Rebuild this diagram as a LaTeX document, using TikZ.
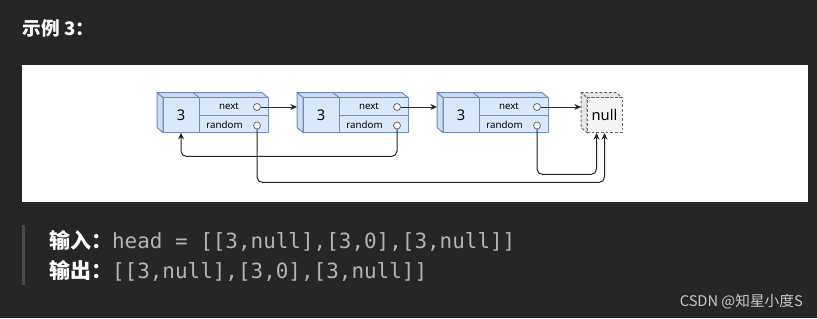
\documentclass[tikz,border=0pt]{standalone}
\usepackage{fontspec}
\setmainfont{Noto Sans}
\newfontfamily\cjk{Noto Sans CJK SC}
\newfontfamily\codefont{DejaVu Sans Mono}
\usetikzlibrary{calc,arrows.meta}
\usepackage{xcolor}
\definecolor{pagedark}{HTML}{262626}
\definecolor{cellblue}{HTML}{DAE8FC}
\definecolor{cellside}{HTML}{CCDCF3}
\definecolor{cellline}{HTML}{6C8EBF}
\definecolor{nullfill}{HTML}{F5F5F5}
\definecolor{nullshade}{HTML}{E6E6E6}
\definecolor{nullline}{HTML}{666666}
\definecolor{codegray}{HTML}{B4B4B4}
\definecolor{quotebar}{HTML}{4A4A4A}
\definecolor{marktext}{HTML}{C8C8C8}

\begin{document}
\begin{tikzpicture}[x=0.75pt, y=-0.75pt,
  cubeface/.style={fill=cellblue, draw=cellline, line width=0.75pt, line join=round},
  cubeside/.style={fill=cellside, draw=cellline, line width=0.75pt, line join=round},
  nullface/.style={fill=nullfill, draw=nullline, line width=0.75pt, dash pattern=on 2pt off 1.5pt},
  nullside/.style={nullface, fill=nullshade},
  valcell/.style={minimum width=27pt, minimum height=26.25pt, inner sep=0pt, font=\fontsize{11}{13}\selectfont},
  field/.style={inner sep=0pt, font=\fontsize{7.3}{8}\selectfont},
  port/.style={circle, draw=nullline, fill=white, minimum size=5.25pt, inner sep=0pt, line width=0.6pt},
  link/.style={draw=black!85, line width=0.75pt, rounded corners=4pt, -{Stealth[length=5pt,width=4.5pt]}}]

  % Page and white panel
  \fill[pagedark] (0,0) rectangle (817,318);
  \fill[white] (22,65) rectangle (808,201.5);

  % Title
  \node[anchor=base west, inner sep=0pt, text=white, font=\cjk\bfseries\fontsize{14}{16}\selectfont] (title) at (22.5,35) {示例 3：};

  % ==================== 1. LIST NODES ====================
  \foreach \i/\dx in {1/0, 2/140, 3/280} {
    \begin{scope}[shift={(\dx,0)}]
      \draw[cubeside] (157,92.5) -- (163,97.5) -- (163,132.5) -- (157,127.5) -- cycle;
      \draw[cubeside] (157,92.5) -- (262,92.5) -- (268,97.5) -- (163,97.5) -- cycle;
      \draw[cellline, line width=0.75pt] (193,92.5) -- (199,97.5);
      \filldraw[cubeface] (163,97.5) rectangle (268,132.5);
      \draw[cellline, line width=0.75pt] (199,97.5) -- (199,132.5);
      \draw[cellline, line width=0.75pt] (199,115.5) -- (268,115.5);
      \coordinate (corner\i) at (157,92.5);
      \node[valcell] (val\i) at (181,115) {3};
      \node[field] (nexttxt\i) at (229,106.5) {next};
      \node[field] (randtxt\i) at (224.5,124.5) {random};
      \node[port] (next\i) at (257,107) {};
      \node[port] (rand\i) at (257,125.5) {};
    \end{scope}
  }

  % Null box
  \draw[nullside] (581,92.5) -- (587,97.5) -- (587,132.5) -- (581,127.5) -- cycle;
  \draw[nullside] (581,92.5) -- (616,92.5) -- (622,97.5) -- (587,97.5) -- cycle;
  \coordinate (cornernull) at (581,92.5);
  \node[nullface, valcell, minimum width=26.25pt] (null) at (604.5,115) {null};

  % ==================== 2. POINTERS ====================
  % next pointers
  \draw[link] (next1.east) -- (next1.east -| corner2);
  \draw[link] (next2.east) -- (next2.east -| corner3);
  \draw[link] (next3.east) -- (next3.east -| cornernull);

  % random pointers
  \draw[link] (rand2.south) -- ++(0,27) -| (val1.south);
  \draw[link] (rand1.south) -- ++(0,53) -| (null.south);
  \draw[link] (rand3.south) -- ++(0,45) -| ([xshift=-6pt]null.south);

  % ==================== 3. EXAMPLE TEXT ====================
  \fill[quotebar] (22,225) rectangle (25,285);
  \node[anchor=base west, inner sep=0pt, text=white, font=\fontsize{15.7}{18}\selectfont] (input) at (49,248.5)
    {\cjk\bfseries 输入：{\codefont\mdseries\color{codegray}head = [[3,null],[3,0],[3,null]]}};
  \node[anchor=base west, inner sep=0pt, text=white, font=\fontsize{15.7}{18}\selectfont] (output) at (49,278)
    {\cjk\bfseries 输出：{\codefont\mdseries\color{codegray}[[3,null],[3,0],[3,null]]}};

  % Watermark
  \node[anchor=base east, inner sep=0pt, text=marktext, font=\cjk\fontsize{11}{13}\selectfont] (mark) at (803,306.5) {CSDN @知星小度S};

\end{tikzpicture}
\end{document}
